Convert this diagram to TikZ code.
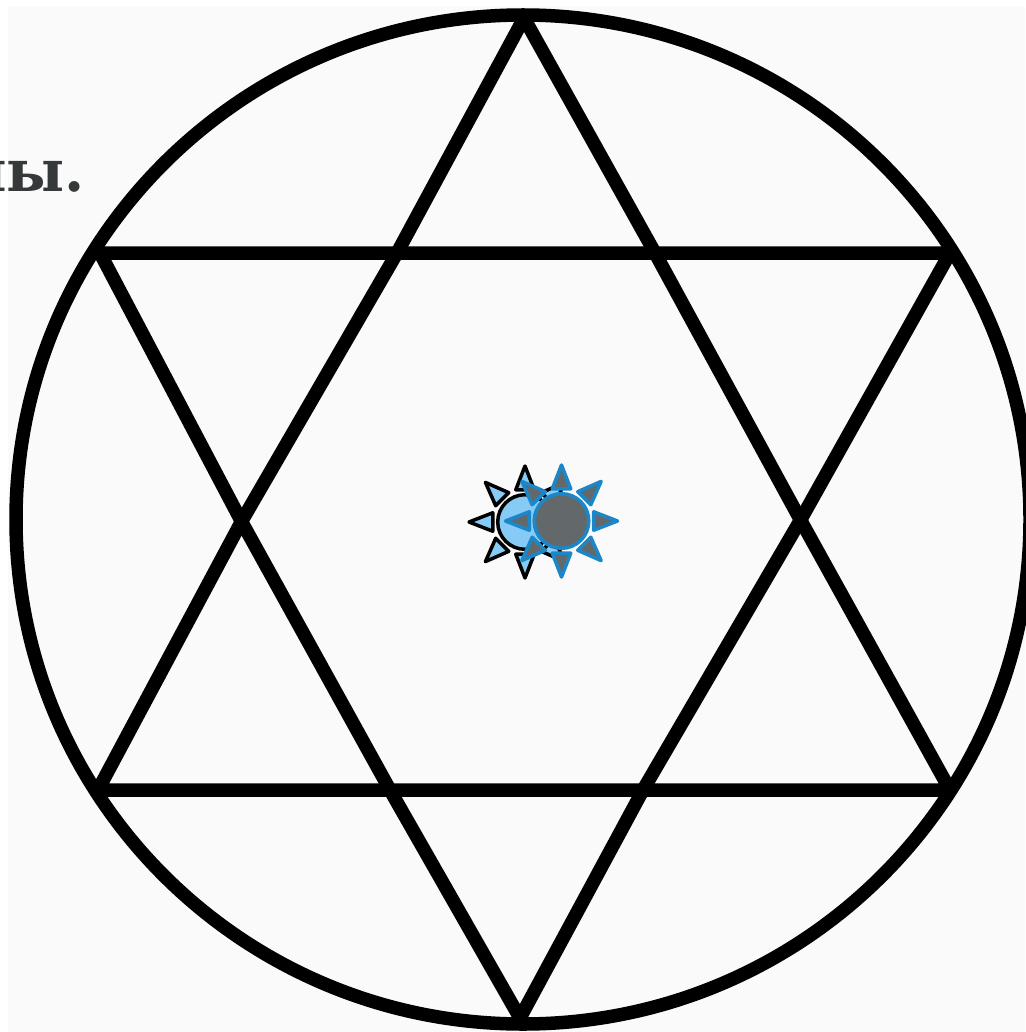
\documentclass[tikz,border=0pt]{standalone}
\usepackage{fontspec}
\usepackage{xcolor}
\newfontfamily\textoserif{DejaVu Serif}
\usetikzlibrary{calc}
\definecolor{fondo}{HTML}{FAFAFA}
\definecolor{celeste}{HTML}{85CBF5}
\definecolor{azul}{HTML}{1B87C9}
\definecolor{gris}{HTML}{63686A}
\definecolor{texto}{HTML}{36393A}
\tikzset{
  linea/.style={draw=black, line width=13.5pt, line join=round, line cap=round},
  solnegro/.style={draw=black, fill=celeste, line width=3.5pt, line join=round},
  solazul/.style={draw=azul, fill=gris, line width=3.5pt, line join=round},
}
% one sun: disc and eight rays
\newcommand{\sol}[2]{
  \foreach \a in {0,45,...,315} {
    \draw[#2] ($(#1)+(\a+16:33.5)$) -- ($(#1)+(\a:56)$) -- ($(#1)+(\a-16:33.5)$) -- cycle;
  }
  \draw[#2] (#1) circle (27.3);
}
\begin{document}
\begin{tikzpicture}[x=1pt, y=-1pt]
  \useasboundingbox (0,0) rectangle (1025,1032);
  \fill[white] (0,0) rectangle (1025,1032);
  \fill[fondo] (8,6) rectangle (1025,1032);
  \node[anchor=base east, inner sep=0pt, font=\textoserif\bfseries\fontsize{58}{58}\selectfont, text=texto] (fin) at (85,192) {ны.};
  \coordinate (centro) at (523,519.5);
  \coordinate (ta) at (524,18);
  \coordinate (tb) at (98,790);
  \coordinate (tc) at (950,790);
  \coordinate (ua) at (520,1018);
  \coordinate (ub) at (100,253);
  \coordinate (uc) at (950,253);
  \coordinate (cruzI) at (241.5,521.5);
  \coordinate (cruzD) at (800.5,520);
  \coordinate (cruzAI) at (397,253);
  \coordinate (cruzAD) at (655,253);
  \coordinate (cruzBI) at (390,790);
  \coordinate (cruzBD) at (643,790);
  \coordinate (solA) at (525,522);
  \coordinate (solB) at (561.5,521);
  \draw[linea] (centro) ellipse (507 and 504.5);
  \draw[linea] (ta) -- (cruzAI) -- (cruzI) -- (tb) -- (tc) -- (cruzD) -- (cruzAD) -- cycle;
  \draw[linea] (ua) -- (cruzBI) -- (cruzI) -- (ub) -- (uc) -- (cruzD) -- (cruzBD) -- cycle;
  \sol{solA}{solnegro}
  \sol{solB}{solazul}
\end{tikzpicture}
\end{document}
